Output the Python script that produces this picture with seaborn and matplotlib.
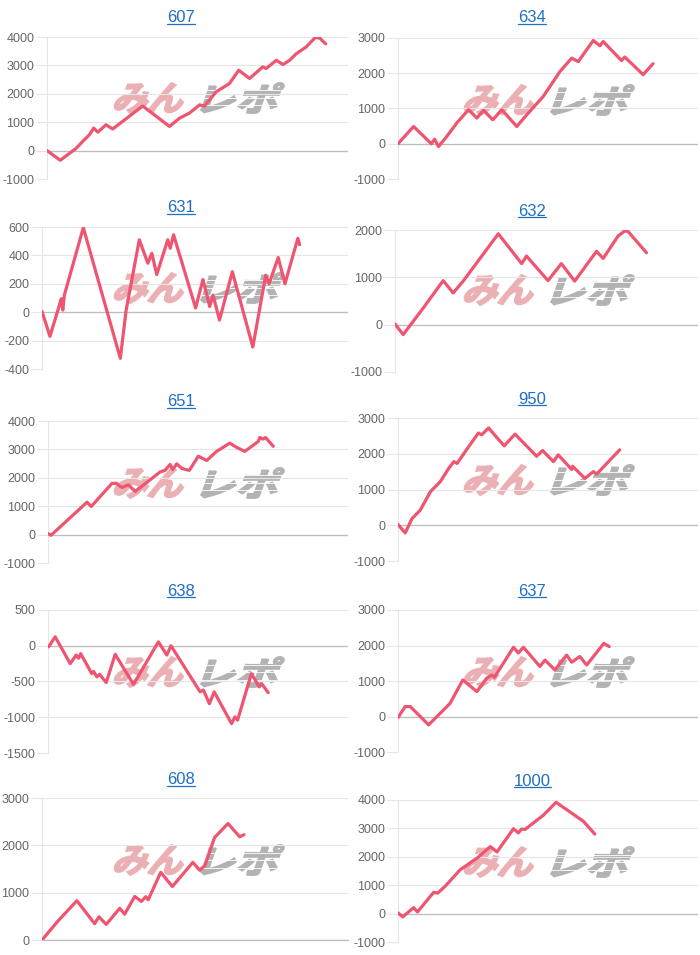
import numpy as np
import pandas as pd
import seaborn as sns
import matplotlib
matplotlib.use("Agg")
import matplotlib.pyplot as plt
import matplotlib.transforms as mtrans
from matplotlib.textpath import TextPath
from matplotlib.patches import PathPatch
from matplotlib.font_manager import FontProperties
from matplotlib.lines import Line2D

# ---------------- data ----------------
titles = ["607", "634", "631", "632", "651", "950", "638", "637", "608", "1000"]

x_607 = [0, 4.4, 9.6, 11.9, 14.1, 15.5, 16.9, 19.6, 21.8, 31.8, 40.7, 44.0, 47.3, 50.7, 52.3, 56.2, 60.6, 63.7, 67.3, 71.7, 72.8, 76.2, 78.4, 80.6, 82.8, 86.1, 89.2, 90.6, 92.6]
y_607 = [0, -340, 70, 330, 560, 790, 650, 910, 760, 1570, 850, 1140, 1320, 1610, 1570, 2070, 2360, 2830, 2540, 2950, 2890, 3180, 3030, 3180, 3410, 3650, 3990, 3960, 3760]

x_634 = [0, 5.2, 11.1, 12.2, 13.5, 16.3, 19.6, 23.5, 26.3, 28.5, 31.6, 34.6, 39.6, 42.9, 48.4, 54.0, 57.9, 60.1, 62.9, 65.1, 67.3, 68.4, 74.5, 75.6, 81.7, 85.0]
y_634 = [0, 490, 0, 130, -80, 210, 590, 965, 730, 950, 680, 965, 490, 820, 1340, 2050, 2430, 2330, 2670, 2930, 2780, 2900, 2360, 2460, 1960, 2270]

x_631 = [0, 2.6, 5.7, 6.3, 6.8, 7.3, 13.5, 25.6, 27.5, 31.8, 34.6, 35.9, 37.5, 41.1, 41.9, 43.0, 50.2, 52.6, 54.8, 55.9, 58.0, 62.2, 68.9, 73.1, 74.2, 77.2, 79.4, 83.6, 84.2]
y_631 = [5, -170, 50, 95, 15, 120, 595, -325, 15, 510, 345, 415, 265, 510, 450, 545, 30, 230, 40, 120, -55, 285, -245, 260, 200, 385, 200, 520, 475]

x_632 = [0, 2.7, 9.3, 15.9, 19.2, 22.5, 34.1, 41.8, 43.4, 50.5, 54.9, 59.3, 66.5, 68.7, 73.6, 75.8, 76.9, 83.0]
y_632 = [15, -210, 350, 930, 670, 920, 1920, 1290, 1450, 930, 1290, 920, 1550, 1400, 1870, 1980, 1970, 1520]

x_651 = [0, 1.0, 13.0, 14.4, 21.3, 22.7, 24.6, 26.8, 29.1, 37.4, 39.0, 40.7, 41.6, 42.9, 44.6, 47.1, 50.1, 52.9, 56.2, 60.6, 62.9, 65.6, 70.1, 70.6, 71.7, 72.5, 75.1]
y_651 = [35, -25, 1140, 990, 1800, 1810, 1660, 1750, 1520, 2210, 2260, 2470, 2290, 2490, 2330, 2260, 2760, 2610, 2930, 3220, 3070, 2930, 3280, 3420, 3360, 3420, 3110]

x_950 = [0, 2.4, 4.7, 7.4, 10.8, 14.1, 16.9, 18.6, 19.7, 22.4, 26.8, 27.9, 30.2, 35.4, 39.0, 46.2, 48.2, 51.8, 53.4, 57.9, 58.2, 62.3, 65.1, 66.2, 73.9]
y_950 = [20, -215, 190, 420, 940, 1220, 1590, 1780, 1730, 2060, 2580, 2530, 2720, 2220, 2550, 1930, 2090, 1780, 1970, 1560, 1650, 1310, 1500, 1430, 2110]

x_638 = [0.2, 2.4, 7.4, 9.4, 10.2, 10.9, 14.6, 15.2, 16.3, 17.2, 19.4, 22.4, 28.5, 36.8, 39.6, 41.0, 50.7, 51.8, 53.8, 55.4, 61.2, 62.3, 63.2, 67.8, 70.4, 71.2, 73.4]
y_638 = [-15, 125, -250, -130, -175, -110, -390, -360, -435, -400, -515, -120, -540, 55, -130, 0, -645, -620, -810, -645, -1090, -995, -1040, -390, -575, -530, -655]

x_637 = [0, 2.4, 4.1, 10.2, 16.3, 17.4, 21.6, 26.3, 29.6, 31.3, 32.1, 38.5, 40.1, 41.8, 47.3, 49.0, 52.3, 56.2, 57.9, 60.6, 62.9, 68.6, 70.4]
y_637 = [-30, 280, 280, -235, 280, 375, 1030, 700, 1080, 1170, 1100, 1950, 1790, 1950, 1410, 1590, 1310, 1730, 1530, 1690, 1450, 2060, 1970]

x_608 = [0, 5.2, 11.4, 17.2, 18.6, 21.0, 25.4, 27.0, 30.3, 32.5, 33.9, 34.7, 38.8, 42.6, 49.3, 51.5, 53.2, 56.4, 60.8, 64.6, 66.0]
y_608 = [0, 400, 830, 345, 490, 330, 670, 545, 920, 815, 915, 850, 1430, 1130, 1640, 1475, 1570, 2165, 2460, 2180, 2225]

x_1000 = [0, 1.6, 5.2, 6.5, 11.9, 13.2, 15.7, 20.7, 26.3, 30.8, 33.0, 38.5, 40.1, 41.2, 42.3, 48.4, 52.7, 61.8, 65.6]
y_1000 = [25, -115, 210, 60, 750, 720, 960, 1540, 1950, 2360, 2170, 2990, 2840, 2980, 2960, 3460, 3920, 3250, 2800]

series_x = [x_607, x_634, x_631, x_632, x_651, x_950, x_638, x_637, x_608, x_1000]
series_y = [y_607, y_634, y_631, y_632, y_651, y_950, y_638, y_637, y_608, y_1000]

# y-axis ticks (min, max, step)
ytick_ranges = [(-1000, 4000, 1000), (-1000, 3000, 1000), (-400, 600, 200), (-1000, 2000, 1000),
                (-1000, 4000, 1000), (-1000, 3000, 1000), (-1500, 500, 500), (-1000, 3000, 1000),
                (0, 3000, 1000), (-1000, 4000, 1000)]

# ---------------- layout (pixels) ----------------
W, H = 700, 955
rects = [(47, 37, 348, 179), (398, 38, 698, 179),
         (42, 227, 348, 369), (395, 230, 698, 372),
         (48, 421, 348, 563), (398, 418, 698, 561),
         (48, 610, 348, 753), (398, 610, 698, 752),
         (42, 798, 348, 940), (398, 800, 698, 942)]
title_pos = [(181, 18), (532, 18), (181, 208), (532, 211), (181, 402), (532, 399),
             (181, 591), (532, 591), (181, 780), (532, 781)]
wm_top = [83, 85, 273, 275, 468, 465, 657, 657, 845, 847]
wm_left = [112, 462, 112, 462, 112, 462, 112, 462, 112, 462]

sns.set_style("white")
plt.rcParams['font.family'] = ['Liberation Sans', 'DejaVu Sans']
plt.rcParams['axes.unicode_minus'] = False

LINE = '#EF5470'
GRID = '#e6e6e6'
ZERO = '#bdbdbd'

fig = plt.figure(figsize=(W / 100, H / 100), dpi=100)
fig.patch.set_facecolor('white')

px = mtrans.Affine2D().scale(1 / W, 1 / H) + fig.transFigure
fp_jp = FontProperties(family='Noto Sans CJK JP', weight='bold')


def place_text_path(text, x0, ytop, w, h, color, stroke, stripes=0):
    tp = TextPath((0, 0), text, size=40, prop=fp_jp)
    bb = tp.get_extents()
    shear = 0.35
    wb = w - shear * h
    tr = (mtrans.Affine2D().translate(-bb.x0, -bb.y0)
          .scale(wb / bb.width, h / bb.height)
          .skew(np.arctan(shear), 0)
          .translate(x0, H - ytop - h))
    patch = PathPatch(tp, transform=tr + px, facecolor=color, edgecolor=color,
                      linewidth=stroke, joinstyle='miter', zorder=-5)
    fig.add_artist(patch)
    for k in range(1, stripes + 1):
        yy = H - ytop - h + k * h / (stripes + 1.0)
        fig.add_artist(Line2D([x0 - 2, x0 + w + 4], [yy, yy], transform=px,
                              color='white', linewidth=0.6, zorder=-4))


for i in range(10):
    x0, yt, x1, yb = rects[i]
    ax = fig.add_axes([x0 / W, 1 - yb / H, (x1 - x0) / W, (yb - yt) / H])
    ax.set_facecolor('none')

    df = pd.DataFrame({"x": series_x[i], "y": series_y[i]})
    sns.lineplot(data=df, x="x", y="y", ax=ax, color=LINE, linewidth=2.3,
                 estimator=None, sort=False, zorder=3)

    lo, hi, st = ytick_ranges[i]
    ticks = np.arange(lo, hi + st, st)
    ax.set_ylim(lo, hi)
    ax.set_xlim(0, 100)
    ax.set_yticks(ticks)
    ax.set_yticklabels([str(int(t)) for t in ticks])
    ax.set_xticks([])
    ax.set_xlabel("")
    ax.set_ylabel("")
    ax.yaxis.grid(True, color=GRID, linewidth=0.8)
    ax.xaxis.grid(False)
    ax.axhline(0, color=ZERO, linewidth=0.9, zorder=1.5)
    ax.tick_params(axis='y', length=8, width=0.8, color=GRID, pad=1,
                   labelsize=9, labelcolor='#666666', left=True)
    for t, tk in zip(ticks, ax.yaxis.get_major_ticks()):
        if t == 0:
            tk.tick1line.set_color(ZERO)
    for s in ['top', 'right', 'bottom']:
        ax.spines[s].set_visible(False)
    ax.spines['left'].set_color(GRID)
    ax.spines['left'].set_linewidth(0.8)
    if lo == 0:
        ax.spines['bottom'].set_visible(True)
        ax.spines['bottom'].set_color(ZERO)
        ax.spines['bottom'].set_linewidth(0.9)

    # watermark
    place_text_path("みん", wm_left[i], wm_top[i], 78, 30, '#eab0b3', 1.4)
    place_text_path("レポ", wm_left[i] + 88, wm_top[i], 85, 30, '#b3b3b3', 1.4, stripes=3)

    # title
    tx, ty = title_pos[i]
    fig.text(tx / W, 1 - ty / H, titles[i], ha='center', va='center',
             fontsize=12, color='#1f6fc5')

# underline titles
fig.canvas.draw()
r = fig.canvas.get_renderer()
for t in list(fig.texts):
    bb = t.get_window_extent(renderer=r)
    y = bb.y0 + 1.5
    fig.add_artist(Line2D([bb.x0 / fig.bbox.width, bb.x1 / fig.bbox.width],
                          [y / fig.bbox.height, y / fig.bbox.height],
                          transform=fig.transFigure, color='#1f6fc5', linewidth=0.9))

fig.savefig("out.png", dpi=100, facecolor='white')
